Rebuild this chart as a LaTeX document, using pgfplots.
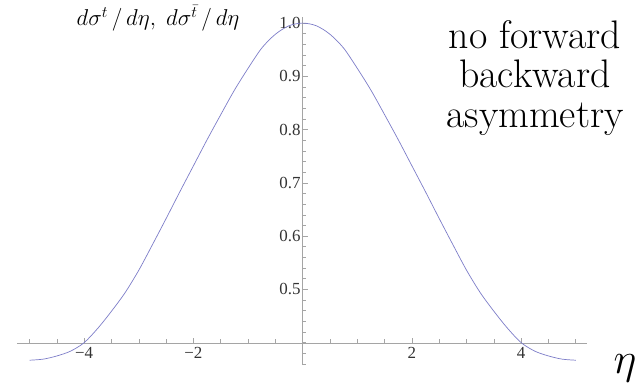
\RequirePackage{fix-cm}
\documentclass[border=0pt]{standalone}
\usepackage{fontspec}
\usepackage{pgfplots}
\pgfplotsset{compat=1.18}
\newfontfamily\tickfont{Liberation Serif}
\definecolor{curve}{RGB}{125,125,200}
\definecolor{axisgray}{RGB}{165,165,165}

% rapidity distribution of top and anti-top (symmetric, normalised to 1 at eta=0)
\pgfplotstableread{
eta    dsig
-5.00  0.367
-4.75  0.369
-4.50  0.375
-4.25  0.384
-4.00  0.400
-3.75  0.427
-3.50  0.459
-3.25  0.494
-3.00  0.536
-2.75  0.584
-2.50  0.633
-2.25  0.683
-2.00  0.732
-1.75  0.781
-1.50  0.828
-1.25  0.874
-1.00  0.915
-0.75  0.953
-0.50  0.979
-0.25  0.995
 0.00  1.000
 0.25  0.995
 0.50  0.979
 0.75  0.953
 1.00  0.915
 1.25  0.874
 1.50  0.828
 1.75  0.781
 2.00  0.732
 2.25  0.683
 2.50  0.633
 2.75  0.584
 3.00  0.536
 3.25  0.494
 3.50  0.459
 3.75  0.427
 4.00  0.400
 4.25  0.384
 4.50  0.375
 4.75  0.369
 5.00  0.367
}\dsigdeta

\begin{document}
\begin{tikzpicture}
\useasboundingbox (-17bp,-19bp) rectangle (623bp,365bp);
\begin{axis}[
  at={(0,0)}, anchor=south west,
  scale only axis, width=569.7bp, height=348.3bp,
  xmin=-5.23, xmax=5.2, ymin=0.358, ymax=1.012,
  axis y line=center, axis x line=bottom, axis x line shift=-22bp,
  axis line style={axisgray, line width=0.8bp, -},
  every tick/.style={axisgray, line width=0.6bp},
  tick align=inside,
  major tick length=5bp, minor tick length=3.5bp,
  xtick={-4,-2,2,4},
  xticklabels={−4,−2,2,4},
  minor xtick={-5,-4.5,...,5},
  ytick={0.5,0.6,0.7,0.8,0.9,1.0},
  yticklabels={0.5,0.6,0.7,0.8,0.9,1.0},
  minor ytick={0.36,0.38,...,1.0},
  ticklabel style={font=\tickfont\fontsize{17}{17}\selectfont, text=black!80},
  xticklabel style={yshift=-1bp},
  yticklabel style={xshift=1.5bp},
  clip=false,
]
\addplot[curve, line width=0.7bp, smooth] table[x=eta, y=dsig] {\dsigdeta};
\end{axis}
\node[anchor=base, font=\fontsize{23}{23}\selectfont] at (141bp,339bp) {$d\sigma^t\,/\,d\eta,\; d\sigma^{\bar t}\,/\,d\eta$};
\node[align=center, font=\fontsize{40}{40}\selectfont] at (518bp,287bp) {no forward\\backward\\asymmetry};
\node[anchor=base, font=\fontsize{44}{44}\selectfont] at (608bp,-8bp) {$\eta$};
\end{tikzpicture}
\end{document}
